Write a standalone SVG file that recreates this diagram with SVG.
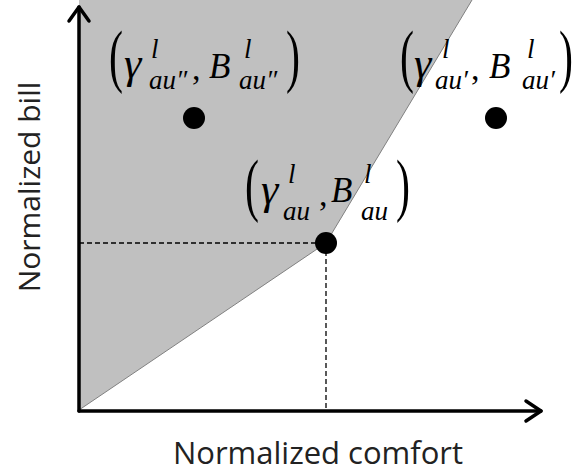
<svg xmlns="http://www.w3.org/2000/svg" width="573" height="475" viewBox="0 0 573 475">
<defs>
<style>
.axis{stroke:#000;stroke-width:3.5;fill:none;stroke-linecap:round;stroke-linejoin:round}
.dash{stroke:#000;stroke-width:1.3;stroke-dasharray:5,3;fill:none}
.lbl{font-family:"Open Sans","Liberation Sans",sans-serif;fill:#222}
.m{font-family:"Liberation Serif","Times New Roman",serif;font-style:italic;fill:#000}
.g{font-size:44px}
.big{font-size:35px}
.sm{font-size:27px}
.par{font-family:"Liberation Serif","Times New Roman",serif;font-size:70px;fill:#000}
.up{font-family:"Liberation Serif","Times New Roman",serif;font-size:34px;fill:#000}
.dot{fill:#000}
</style>
</defs>
<rect width="573" height="475" fill="#fff"/>
<g id="region">
<polygon points="79,0 79,410 326,243 472,0" fill="#c0c0c0"/>
<polyline points="79,410 326,243 472,0" fill="none" stroke="#808080" stroke-width="1"/>
</g>
<g id="connectors">
<line class="dash" x1="79" y1="243" x2="326" y2="243"/>
<line class="dash" x1="326" y1="243" x2="326" y2="410"/>
<line class="axis" x1="79" y1="411" x2="79" y2="7"/>
<polyline class="axis" points="69,21 79,7 89,21"/>
<line class="axis" x1="79" y1="411" x2="541" y2="411"/>
<polyline class="axis" points="526,401 541,411 526,421"/>
</g>
<g id="axis-y-label"><text class="lbl" font-size="30" transform="translate(40,187) rotate(-90)" text-anchor="middle">Normalized bill</text></g>
<g id="axis-x-label"><text class="lbl" font-size="31" x="318" y="464" text-anchor="middle">Normalized comfort</text></g>
<g id="point-au2">
<circle class="dot" cx="194" cy="118" r="11"/>
<text class="par" transform="translate(109,79) scale(0.6,1)">(</text>
<text class="m g" x="124" y="78">γ</text>
<text class="m sm" x="151" y="58">l</text>
<text class="m sm" x="149" y="89">au″</text>
<text class="up" x="192" y="80">,</text>
<text class="m big" x="209" y="78">B</text>
<text class="m sm" x="244" y="58">l</text>
<text class="m sm" x="239" y="89">au″</text>
<text class="par" transform="translate(286,79) scale(0.6,1)">)</text>
</g>
<g id="point-au1">
<circle class="dot" cx="496" cy="118" r="11"/>
<text class="par" transform="translate(400,79) scale(0.6,1)">(</text>
<text class="m g" x="414" y="78">γ</text>
<text class="m sm" x="442" y="58">l</text>
<text class="m sm" x="435" y="89">au′</text>
<text class="up" x="471" y="80">,</text>
<text class="m big" x="489" y="78">B</text>
<text class="m sm" x="527" y="58">l</text>
<text class="m sm" x="522" y="89">au′</text>
<text class="par" transform="translate(559,79) scale(0.6,1)">)</text>
</g>
<g id="point-au">
<circle class="dot" cx="326" cy="243" r="11"/>
<text class="par" transform="translate(245,208) scale(0.6,1)">(</text>
<text class="m g" x="261" y="204">γ</text>
<text class="m sm" x="288" y="183">l</text>
<text class="m sm" x="283" y="220">au</text>
<text class="up" x="319" y="206">,</text>
<text class="m big" x="331" y="202">B</text>
<text class="m sm" x="364" y="183">l</text>
<text class="m sm" x="361" y="220">au</text>
<text class="par" transform="translate(396,208) scale(0.6,1)">)</text>
</g>
</svg>
